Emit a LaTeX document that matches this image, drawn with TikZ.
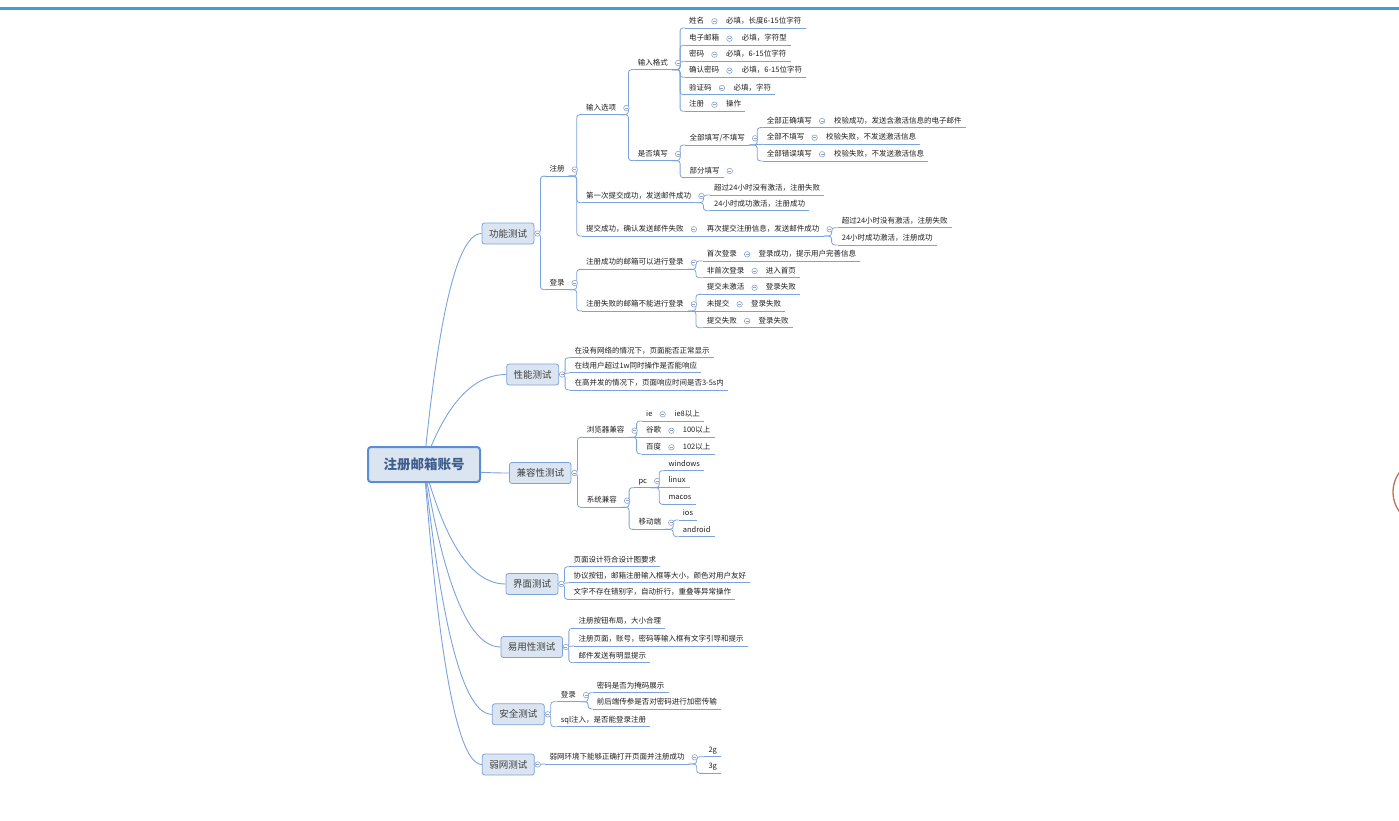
\documentclass[tikz,border=0pt]{standalone}
\usepackage{fontspec}
\setmainfont{Noto Sans CJK SC}
\usetikzlibrary{backgrounds}
\definecolor{bar}{HTML}{3AA0D5}
\definecolor{linkc}{HTML}{7BA3DB}
\definecolor{boxfill}{HTML}{DBE5F1}
\definecolor{boxline}{HTML}{7EA3D8}
\definecolor{rootline}{HTML}{5B8DD3}
\definecolor{roottext}{HTML}{3F5E8C}
\definecolor{ink}{HTML}{1E1E1E}
\definecolor{foldc}{HTML}{8CA3C9}
\definecolor{ring}{HTML}{B97456}
\tikzset{
  root/.style={draw=rootline, fill=boxfill, line width=2pt, rounded corners=3pt,
    minimum width=112pt, minimum height=35pt, text=roottext,
    font=\fontsize{13.5}{15}\selectfont\bfseries},
  topic/.style={draw=boxline, fill=boxfill, line width=0.8pt, rounded corners=2.5pt,
    minimum height=21pt, inner xsep=7pt, text=ink!85, font=\fontsize{9.5}{11}\selectfont},
  leaf/.style={anchor=west, inner xsep=4pt, inner ysep=2.7pt, text height=6pt,
    text depth=1.5pt, text=ink, font=\fontsize{7.5}{9}\selectfont},
  link/.style={draw=linkc, line width=0.8pt, rounded corners=3pt},
  rootcurve/.style={draw=linkc, line width=0.9pt},
  fold/.style={circle, draw=foldc, fill=white, line width=0.6pt, minimum size=5.5pt,
    inner sep=0pt, path picture={\draw[foldc, line width=0.5pt]
      ([xshift=1.2pt]path picture bounding box.west) -- ([xshift=-1.2pt]path picture bounding box.east);}}
}
\begin{document}
\begin{tikzpicture}[x=1pt, y=-1pt]
  \useasboundingbox (0,0) rectangle (1399,821);
  \fill[bar] (0,6.7) rectangle (1399,9.7);
  \begin{scope}
    \clip (1380,440) rectangle (1399,560);
    \draw[ring, line width=1.3pt] (1426,492) circle (33);
  \end{scope}

  % root and main topics
  \node[root] (root) at (424,464.5) {注册邮箱账号};
  \node[topic] (f1) at (508,233.5) {功能测试};
  \node[topic] (f2) at (532.7,374.5) {性能测试};
  \node[topic] (f3) at (540.3,473) {兼容性测试};
  \node[topic] (f4) at (532,584) {界面测试};
  \node[topic] (f5) at (531.7,647) {易用性测试};
  \node[topic] (f6) at (518.3,714.3) {安全测试};
  \node[topic] (f7) at (508.3,764.5) {弱网测试};

  \begin{scope}[on background layer]
    \draw[rootcurve] (root.center) .. controls +(11.5,-115.8) and +(-28.9,0) .. (f1.west);
    \draw[rootcurve] (root.center) .. controls +(16.5,-45.3) and +(-41.3,0) .. (f2.west);
    \draw[rootcurve] (root.center) .. controls +(17,4) and +(-42.5,0) .. (f3.west);
    \draw[rootcurve] (root.center) .. controls +(16.4,59.5) and +(-41,0) .. (f4.west);
    \draw[rootcurve] (root.center) .. controls +(15.3,91) and +(-38.3,0) .. (f5.west);
    \draw[rootcurve] (root.center) .. controls +(13.7,124.6) and +(-34.3,0) .. (f6.west);
    \draw[rootcurve] (root.center) .. controls +(11.5,149.8) and +(-28.9,0) .. (f7.west);
  \end{scope}

  % 功能测试
  \node[leaf] (a1) at (545.3,169.5) {注册};
  \node[leaf] (a2) at (545.3,283) {登录};
  \node[leaf] (b1) at (582,108) {输入选项};
  \node[leaf] (b2) at (582,196) {第一次提交成功，发送邮件成功};
  \node[leaf] (b3) at (582,229.3) {提交成功，确认发送邮件失败};
  \node[leaf] (c1) at (633.7,63) {输入格式};
  \node[leaf] (c2) at (633.7,154) {是否填写};
  \node[leaf] (d1) at (685,21.3) {姓名};
  \node[leaf] (d2) at (685,38.7) {电子邮箱};
  \node[leaf] (d3) at (685,54.7) {密码};
  \node[leaf] (d4) at (685,70.7) {确认密码};
  \node[leaf] (d5) at (685,88) {验证码};
  \node[leaf] (d6) at (685,104.7) {注册};
  \node[leaf] (d1a) at (722,21.3) {必填，长度6-15位字符};
  \node[leaf] (d2a) at (737.7,38.7) {必填，字符型};
  \node[leaf] (d3a) at (722,54.7) {必填，6-15位字符};
  \node[leaf] (d4a) at (737.7,70.7) {必填，6-15位字符};
  \node[leaf] (d5a) at (729.3,88) {必填，字符};
  \node[leaf] (d6a) at (722,104.7) {操作};
  \node[leaf] (e1) at (685.3,138.3) {全部填写/不填写};
  \node[leaf] (e2) at (685.3,171) {部分填写};
  \node[leaf] (g1) at (762.7,121) {全部正确填写};
  \node[leaf] (g2) at (762.7,137.7) {全部不填写};
  \node[leaf] (g3) at (762.7,154.3) {全部错误填写};
  \node[leaf] (g1a) at (830,121) {校验成功，发送含激活信息的电子邮件};
  \node[leaf] (g2a) at (822,137.7) {校验失败，不发送激活信息};
  \node[leaf] (g3a) at (830,154.3) {校验失败，不发送激活信息};
  \node[leaf] (h1) at (710,188.3) {超过24小时没有激活，注册失败};
  \node[leaf] (h2) at (710,204) {24小时成功激活，注册成功};
  \node[leaf] (i1) at (702.7,229.3) {再次提交注册信息，发送邮件成功};
  \node[leaf] (j1) at (837.7,221) {超过24小时没有激活，注册失败};
  \node[leaf] (j2) at (837.7,238.3) {24小时成功激活，注册成功};
  \node[leaf] (k1) at (582,262.7) {注册成功的邮箱可以进行登录};
  \node[leaf] (k2) at (582,304.3) {注册失败的邮箱不能进行登录};
  \node[leaf] (l1) at (702.7,254.3) {首次登录};
  \node[leaf] (l2) at (702.7,271) {非首次登录};
  \node[leaf] (l1a) at (754.3,254.3) {登录成功，提示用户完善信息};
  \node[leaf] (l2a) at (761.7,271) {进入首页};
  \node[leaf] (m1) at (702.7,287.7) {提交未激活};
  \node[leaf] (m2) at (702.7,304.3) {未提交};
  \node[leaf] (m3) at (702.7,321) {提交失败};
  \node[leaf] (m1a) at (761.7,287.7) {登录失败};
  \node[leaf] (m2a) at (747,304.3) {登录失败};
  \node[leaf] (m3a) at (754.3,321) {登录失败};

  % 性能测试
  \node[leaf] (n1) at (570.3,351) {在没有网络的情况下，页面能否正常显示};
  \node[leaf] (n2) at (570.3,366) {在线用户超过1w同时操作是否能响应};
  \node[leaf] (n3) at (570.3,383.3) {在高并发的情况下，页面响应时间是否3-5s内};

  % 兼容性测试
  \node[leaf] (o1) at (582.7,430.7) {浏览器兼容};
  \node[leaf] (o2) at (582.7,500.7) {系统兼容};
  \node[leaf] (p1) at (642,414.3) {ie};
  \node[leaf] (p2) at (642,430.7) {谷歌};
  \node[leaf] (p3) at (642,447.3) {百度};
  \node[leaf] (p1a) at (670.3,414.3) {ie8以上};
  \node[leaf] (p2a) at (678.7,430.7) {100以上};
  \node[leaf] (p3a) at (678.7,447.3) {102以上};
  \node[leaf] (q1) at (634.3,481) {pc};
  \node[leaf] (q2) at (634.3,522.7) {移动端};
  \node[leaf] (r1) at (664.3,464) {windows};
  \node[leaf] (r2) at (664.3,480.7) {linux};
  \node[leaf] (r3) at (664.3,497.7) {macos};
  \node[leaf] (s1) at (678.7,513.3) {ios};
  \node[leaf] (s2) at (678.7,530) {android};

  % 界面测试, 易用性测试
  \node[leaf] (t1) at (569.3,560) {页面设计符合设计图要求};
  \node[leaf] (t2) at (569.3,576) {协议按钮，邮箱注册输入框等大小，颜色对用户友好};
  \node[leaf] (t3) at (569.3,592.7) {文字不存在错别字，自动折行，重叠等异常操作};
  \node[leaf] (u1) at (574.3,621.7) {注册按钮布局，大小合理};
  \node[leaf] (u2) at (574.3,639.3) {注册页面，账号，密码等输入框有文字引导和提示};
  \node[leaf] (u3) at (574.3,656) {邮件发送有明显提示};

  % 安全测试, 弱网测试
  \node[leaf] (v1) at (556.7,695) {登录};
  \node[leaf] (v2) at (556.7,720) {sql注入，是否能登录注册};
  \node[leaf] (w1) at (592.7,686) {密码是否为掩码展示};
  \node[leaf] (w2) at (592.7,702.3) {前后端传参是否对密码进行加密传输};
  \node[leaf] (x1) at (545.3,757.3) {弱网环境下能够正确打开页面并注册成功};
  \node[leaf] (y1) at (704.3,750) {2g};
  \node[leaf] (y2) at (704.3,766.7) {3g};

  % underlines
  \foreach \n in {a1,a2,b1,b2,b3,c1,c2,d1,d2,d3,d4,d5,d6,d1a,d2a,d3a,d4a,d5a,d6a,
      e1,e2,g1,g2,g3,g1a,g2a,g3a,h1,h2,i1,j1,j2,k1,k2,l1,l2,l1a,l2a,m1,m2,m3,m1a,m2a,m3a,
      n1,n2,n3,o1,o2,p1,p2,p3,p1a,p2a,p3a,q1,q2,r1,r2,r3,s1,s2,
      t1,t2,t3,u1,u2,u3,v1,v2,w1,w2,x1,y1,y2}
    \draw[link] (\n.south west) -- (\n.south east);

  % topic to first level
  \foreach \p/\c in {f1/a1,f1/a2,f2/n1,f2/n3,f3/o1,f3/o2,f4/t1,f4/t3,f5/u1,f5/u3,f6/v1,f6/v2}
    \draw[link] (\p.east) -- ++(6,0) |- (\c.south west);
  \foreach \p/\c in {f2/n2,f4/t2,f5/u2,f7/x1}
    \draw[link] (\p.east) -- (\c.south west);

  % deeper levels
  \foreach \p/\c in {a1/b1,a1/b2,a1/b3,b1/c1,b1/c2,c1/d1,c1/d2,c1/d3,c1/d4,c1/d5,c1/d6,
      c2/e1,c2/e2,e1/g1,e1/g3,b2/h1,b2/h2,i1/j1,i1/j2,a2/k1,a2/k2,k1/l1,k1/l2,k2/m1,k2/m3,
      o1/p1,o1/p3,o2/q1,o2/q2,q1/r1,q1/r3,q2/s1,q2/s2,v1/w1,v1/w2,x1/y1,x1/y2}
    \draw[link] (\p.south east) -- ++(8,0) |- (\c.south west);
  \foreach \p/\c in {d1/d1a,d2/d2a,d3/d3a,d4/d4a,d5/d5a,d6/d6a,e1/g2,g1/g1a,g2/g2a,g3/g3a,
      b3/i1,l1/l1a,l2/l2a,k2/m2,m1/m1a,m2/m2a,m3/m3a,o1/p2,p1/p1a,p2/p2a,p3/p3a,q1/r2}
    \draw[link] (\p.south east) -- (\c.south west);

  % fold markers
  \foreach \n in {f1,f2,f3,f4,f5,f6,f7}
    \node[fold] at ([xshift=3pt]\n.east) {};
  \foreach \n in {a1,a2,b1,b2,b3,c1,c2,d1,d2,d3,d4,d5,d6,e1,e2,g1,g2,g3,i1,
      k1,k2,l1,l2,m1,m2,m3,o1,o2,p1,p2,p3,q1,q2,v1,x1}
    \node[fold] at ([xshift=6pt]\n.east) {};
\end{tikzpicture}
\end{document}
